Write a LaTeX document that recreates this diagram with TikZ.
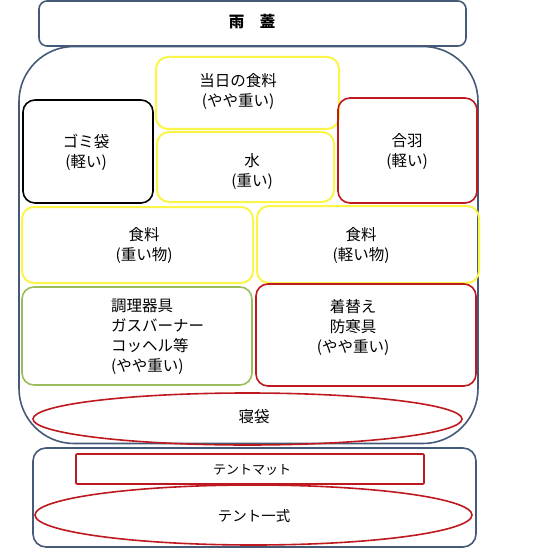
\documentclass[tikz,border=0pt]{standalone}
\usepackage{fontspec}
\setmainfont{Noto Sans CJK JP}
\usetikzlibrary{shapes.geometric}
\definecolor{packblue}{RGB}{68,90,120}
\definecolor{boxyellow}{RGB}{250,245,70}
\definecolor{boxred}{RGB}{190,25,30}
\definecolor{boxgreen}{RGB}{155,190,90}
\tikzset{
  frame/.style={draw=packblue, line width=1.6pt, inner sep=0pt},
  ybox/.style={draw=boxyellow, line width=2pt, rounded corners=12pt, inner sep=0pt},
  rbox/.style={draw=boxred, line width=1.6pt, rounded corners=12pt, inner sep=0pt},
  kbox/.style={draw=black, line width=1.6pt, rounded corners=12pt, inner sep=0pt},
  gbox/.style={draw=boxgreen, line width=1.6pt, rounded corners=12pt, inner sep=0pt},
  rell/.style={draw=boxred, line width=1.6pt, ellipse, inner sep=0pt},
  lbl/.style={font=\fontsize{15.5}{20}\selectfont, align=center, inner sep=0pt},
  smalllbl/.style={font=\fontsize{13}{16}\selectfont, align=center, inner sep=0pt}
}
\begin{document}
\begin{tikzpicture}[x=1pt,y=-1pt]
\useasboundingbox (0,0) rectangle (541,553);
% outer pack
\node[frame, rounded corners=55pt, minimum width=459pt, minimum height=397pt] (pack) at (248.5,245) {};
% rain lid
\node[frame, rounded corners=8pt, minimum width=427pt, minimum height=45pt] (lid) at (252.5,23.5) {};
\node[lbl, font=\fontsize{15.5}{20}\selectfont\bfseries] (lidt) at (252,22) {雨　蓋};
% inner boxes
\node[ybox, minimum width=183pt, minimum height=72pt] (today) at (247.5,93) {};
\node[lbl] (todayt) at (238,92) {当日の食料\\(やや重い)};
\node[kbox, minimum width=130pt, minimum height=103pt] (gomi) at (88,151.5) {};
\node[lbl] (gomit) at (86,152) {ゴミ袋\\(軽い)};
\node[ybox, minimum width=177pt, minimum height=70pt] (water) at (245.5,167) {};
\node[lbl] (watert) at (252,172) {水\\(重い)};
\node[rbox, minimum width=139pt, minimum height=105pt] (rain) at (407.5,150.5) {};
\node[lbl] (raint) at (407,152) {合羽\\(軽い)};
\node[ybox, minimum width=231pt, minimum height=76pt] (foodh) at (137.5,245) {};
\node[lbl] (foodht) at (144,245) {食料\\(重い物)};
\node[ybox, minimum width=222pt, minimum height=77pt] (foodl) at (368,244.5) {};
\node[lbl] (foodlt) at (361,245) {食料\\(軽い物)};
\node[gbox, minimum width=230pt, minimum height=98pt] (cook) at (137,336) {};
\node[lbl, align=left, anchor=west] (cookt) at (111,336.5) {調理器具\\ガスバーナー\\コッヘル等\\(やや重い)};
\node[rbox, minimum width=220pt, minimum height=102pt] (cloth) at (366,335) {};
\node[lbl] (clotht) at (353,327) {着替え\\防寒具\\(やや重い)};
\node[rell, minimum width=429pt, minimum height=52pt] (sleep) at (247.5,419) {};
\node[lbl] (sleept) at (254,417) {寝袋};
% bottom group
\node[frame, rounded corners=13pt, minimum width=443pt, minimum height=99pt] (tentgrp) at (254.5,497.5) {};
\node[draw=boxred, line width=1.6pt, rounded corners=1pt, minimum width=348pt, minimum height=30pt, inner sep=0pt] (mat) at (250,469) {};
\node[smalllbl] (matt) at (252,470) {テントマット};
\node[rell, minimum width=437pt, minimum height=60pt] (tent) at (253.5,515) {};
\node[lbl, font=\fontsize{14.5}{18}\selectfont] (tentt) at (254,516) {テント一式};
\end{tikzpicture}
\end{document}
